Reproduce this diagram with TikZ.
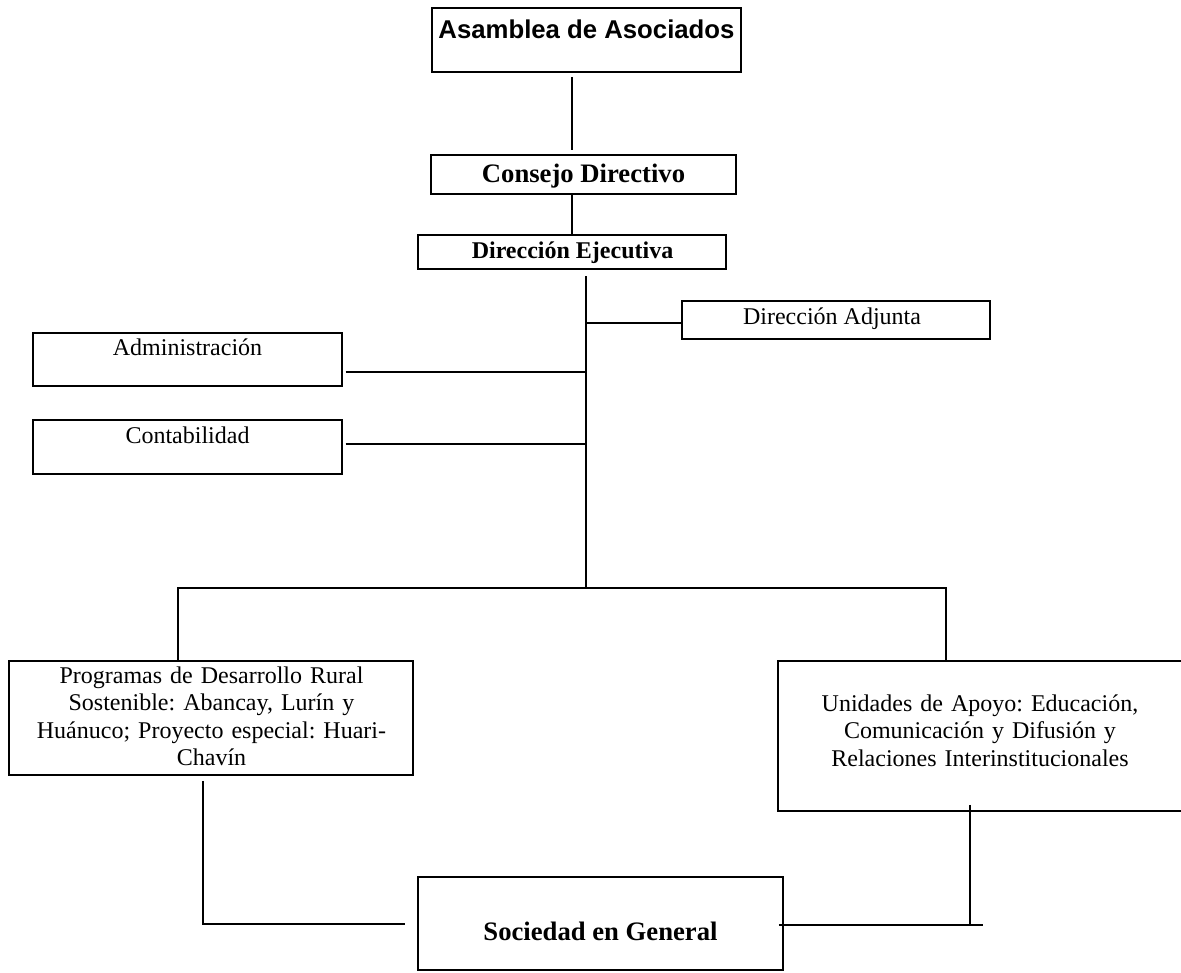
\documentclass[tikz,border=0pt]{standalone}
\usepackage{fontspec}
\setmainfont{Liberation Serif}
\newfontfamily\arialfam{Liberation Sans}
\usetikzlibrary{fit}
\frenchspacing
\begin{document}
\begin{tikzpicture}[x=0.75pt,y=-0.75pt,
  box/.style={draw, line width=1.4pt, inner sep=0pt},
  link/.style={draw, line width=1.1pt},
  txt/.style={inner sep=0pt, anchor=base, font=\fontsize{18}{20.7}\selectfont},
  mtxt/.style={txt, align=center, text width=300pt},
  tb/.style={inner sep=0pt, anchor=base, font=\bfseries\fontsize{20}{24}\selectfont},
  tbs/.style={inner sep=0pt, anchor=base, font=\bfseries\fontsize{18}{22}\selectfont},
  tsans/.style={inner sep=0pt, anchor=base, font=\arialfam\bfseries\fontsize{19.3}{23}\selectfont}]
\useasboundingbox (0,0) rectangle (1181,972);
% boxes
\node[box,fit={(432,8)(741,72)}] (asm) {};
\node[box,fit={(431,155)(736,194)}] (cons) {};
\node[box,fit={(418,235)(726,269)}] (ejec) {};
\node[box,fit={(682,301)(990,339)}] (adj) {};
\node[box,fit={(33,333)(342,386)}] (adm) {};
\node[box,fit={(33,420)(342,474)}] (cont) {};
\node[box,fit={(9,661)(413,775)}] (prog) {};
\node[box,fit={(778,661)(1184,811)}] (unid) {};
\node[box,fit={(418,877)(783,970)}] (soc) {};
% texts
\node[tsans] (asmT) at (586.5,38) {Asamblea de Asociados};
\node[tb] (consT) at (583.5,182) {Consejo Directivo};
\node[tbs] (ejecT) at (572.5,258) {Dirección Ejecutiva};
\node[txt] (adjT) at (832,324) {Dirección Adjunta};
\node[txt] (admT) at (187.5,355) {Administración};
\node[txt] (contT) at (187.5,443) {Contabilidad};
\node[mtxt] (progT) at (211.5,683) {Programas de Desarrollo Rural\\Sostenible: Abancay, Lurín y\\Huánuco; Proyecto especial: Huari-\\Chavín};
\node[mtxt] (unidT) at (980,711) {Unidades de Apoyo: Educación,\\Comunicación y Difusión y\\Relaciones Interinstitucionales};
\node[tb] (socT) at (600.5,940) {Sociedad en General};
% connectors
\coordinate (top) at (586,276);
\coordinate (hub) at (586,588);
\coordinate (lb) at (178,588);
\coordinate (rb) at (946,588);
\coordinate (ya) at (0,372);
\coordinate (yc) at (0,444);
\coordinate (yd) at (0,323);
\coordinate (lj) at (203,924);
\coordinate (rj) at (970,925);
\draw[link, shorten <=3pt, shorten >=3pt] (asm.south -| ejec.north) -- (cons.north -| ejec.north);
\draw[link] (cons.south -| ejec.north) -- (ejec.north);
\draw[link] (top) -- (hub);
\draw[link] (top |- yd) -- (adj.west |- yd);
\draw[link, shorten <=2pt] (adm.east |- ya) -- (top |- ya);
\draw[link, shorten <=2pt] (cont.east |- yc) -- (top |- yc);
\draw[link] (prog.north -| lb) -- (lb) -- (rb) -- (unid.north -| rb);
\draw[link, shorten <=3.75pt, shorten >=9pt] (prog.south -| lj) |- (soc.west |- lj);
\draw[link, shorten <=-5.25pt] (unid.south -| rj) -- (rj);
\draw[link, shorten <=-3.75pt, shorten >=-9.75pt] (soc.east |- rj) -- (rj);
\end{tikzpicture}
\end{document}
